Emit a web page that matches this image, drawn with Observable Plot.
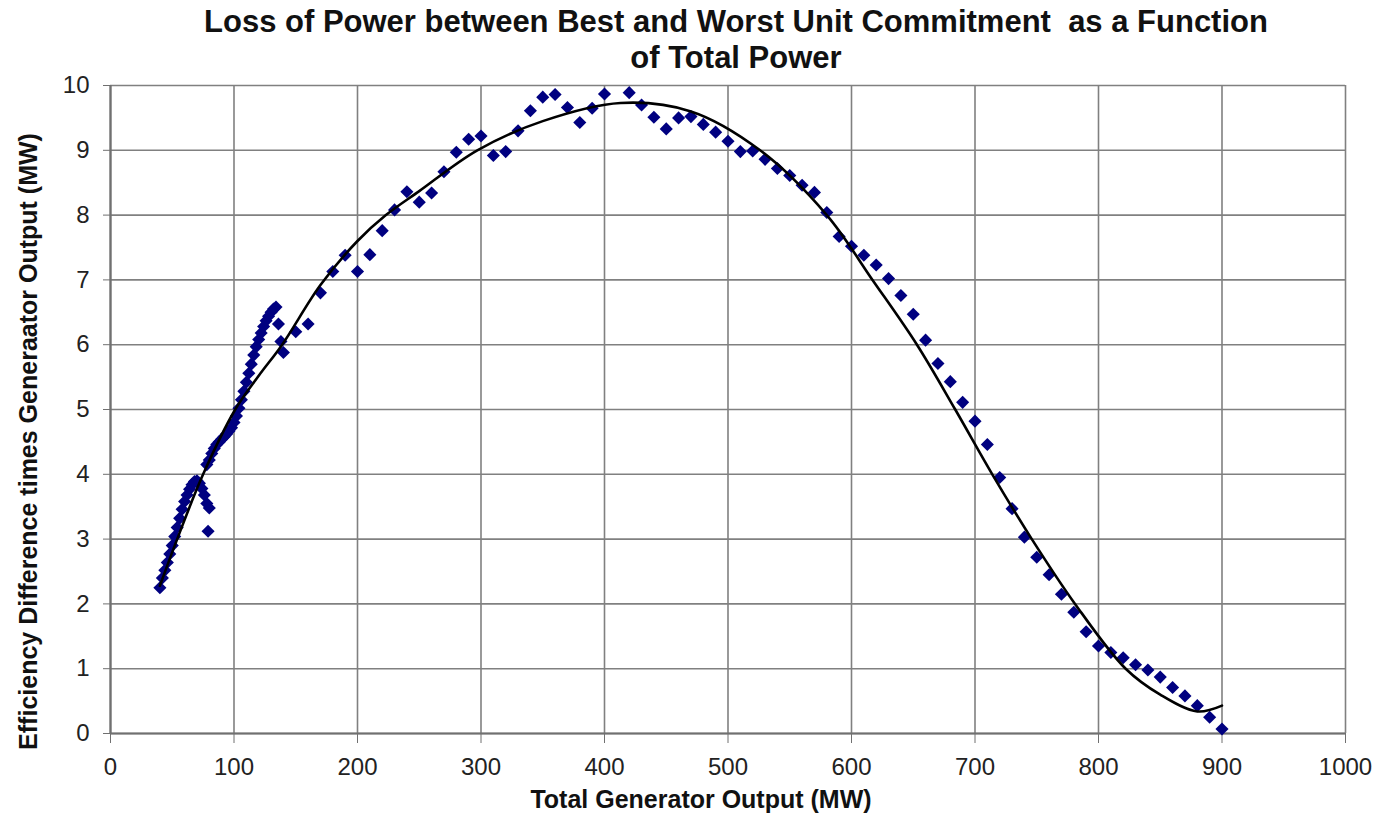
<!DOCTYPE html>
<html>
<head>
<meta charset="utf-8">
<script src="https://cdn.jsdelivr.net/npm/d3@7"></script>
<script src="https://cdn.jsdelivr.net/npm/@observablehq/plot@0.6"></script>
<style>
  html, body { margin: 0; padding: 0; background: #fff; }
  #title { width: 1376px; height: 75px; box-sizing: border-box; padding-top: 4px; text-align: center;
           font-family: "Liberation Sans", Arial, sans-serif; font-weight: bold; font-size: 31px; line-height: 36px; color: #111; padding-left: 96px; white-space: nowrap; }
</style>
</head>
<body>
<div id="title">Loss of Power between Best and Worst Unit Commitment&nbsp; as a Function<br>of Total Power</div>
<div id="chart"></div>
<script>
// Scatter data (Total Generator Output MW, Efficiency difference × output MW)
const pointX = [
  40,42,44,46,48,50,52,54,56,58,60,62,64,66,68,70,72,74,76,78,79,80,
  78,80,82,84,86,88,90,92,94,96,98,100,102,104,106,108,110,112,114,116,118,120,122,124,126,128,130,132,134,136,138,140,
  150,160,170,180,190,200,210,220,230,240,250,260,270,280,290,300,310,320,330,340,350,360,370,380,390,400,
  420,430,440,450,460,470,480,490,500,510,520,530,540,550,560,570,580,590,600,610,620,630,640,650,660,670,680,690,700,
  710,720,730,740,750,760,770,780,790,800,810,820,830,840,850,860,870,880,890,900
];
const pointY = [
  2.25,2.40,2.52,2.64,2.77,2.90,3.04,3.18,3.32,3.46,3.58,3.68,3.77,3.84,3.89,3.90,3.86,3.78,3.68,3.55,3.12,3.48,
  4.15,4.22,4.32,4.40,4.46,4.50,4.54,4.58,4.62,4.67,4.72,4.80,4.90,5.02,5.15,5.28,5.42,5.56,5.70,5.84,5.97,6.08,6.18,6.28,6.37,6.44,6.50,6.55,6.58,6.32,6.05,5.88,
  6.20,6.32,6.80,7.13,7.38,7.13,7.39,7.76,8.08,8.36,8.20,8.34,8.67,8.97,9.17,9.22,8.92,8.98,9.30,9.61,9.82,9.86,9.66,9.43,9.65,9.87,
  9.89,9.70,9.51,9.33,9.50,9.52,9.40,9.28,9.14,8.98,8.99,8.86,8.72,8.61,8.46,8.35,8.04,7.67,7.52,7.38,7.23,7.02,6.76,6.47,6.07,5.71,5.43,5.11,4.82,
  4.46,3.95,3.47,3.03,2.72,2.45,2.15,1.87,1.57,1.35,1.25,1.17,1.06,0.98,0.87,0.71,0.58,0.43,0.25,0.07
];
// Trend line
const trendX = [40,54,75,101,120,139,170,200,223,250,297,350,413,470,526,580,617,653,684,714,746,781,822,850,880,900];
const trendY = [2.28,3.0,4.0,5.0,5.52,6.0,6.92,7.6,8.0,8.37,9.0,9.45,9.73,9.6,9.0,8.0,7.0,6.0,5.0,4.0,3.0,2.0,1.0,0.6,0.34,0.43];
const xTicks = [0,100,200,300,400,500,600,700,800,900,1000];
const yTicks = [0,1,2,3,4,5,6,7,8,9,10];
const titleText = "Loss of Power between Best and Worst Unit Commitment  as a Function of Total Power";
const xLabel = "Total Generator Output (MW)";
const yLabel = "Efficiency Difference times Generaator Output (MW)";

const points = pointX.map((x, i) => ({x, y: pointY[i]}));
const trend = trendX.map((x, i) => ({x, y: trendY[i]}));

const chart = Plot.plot({
  width: 1376,
  height: 744,
  marginLeft: 110,
  marginRight: 31,
  marginTop: 10,
  marginBottom: 86,
  style: {fontFamily: "'Liberation Sans', Arial, sans-serif", fontSize: "24px", color: "#222", background: "#fff", overflow: "visible"},
  x: {domain: [0, 1000]},
  y: {domain: [0, 10]},
  marks: [
    Plot.gridX(xTicks, {stroke: "#808080", strokeOpacity: 1, strokeWidth: 1.6}),
    Plot.gridY(yTicks, {stroke: "#808080", strokeOpacity: 1, strokeWidth: 1.6}),
    Plot.ruleY([0], {stroke: "#707070", strokeWidth: 2.2}),
    Plot.ruleX([0], {stroke: "#707070", strokeWidth: 2.2}),
    Plot.axisX(xTicks, {tickSize: 10, tickPadding: 14, label: null, stroke: "#707070", fontSize: 24, tickFormat: d => String(d)}),
    Plot.axisY(yTicks, {tickSize: 7, tickPadding: 14, label: null, stroke: "#707070", fontSize: 24, tickFormat: d => String(d)}),
    Plot.dot(points, {x: "x", y: "y", symbol: "diamond2", r: 5.9, fill: "#000080", stroke: "none"}),
    Plot.line(trend, {x: "x", y: "y", curve: "catmull-rom", stroke: "#000", strokeWidth: 2.6}),
    Plot.text([xLabel], {frameAnchor: "bottom", dy: 74, dx: -27, fontWeight: "bold", fontSize: 25, fill: "#111"}),
    Plot.text([yLabel], {frameAnchor: "left", textAnchor: "middle", rotate: -90, dx: -82, dy: 32, fontWeight: "bold", fontSize: 25, fill: "#111"})
  ]
});
document.getElementById("chart").appendChild(chart);
</script>
</body>
</html>
